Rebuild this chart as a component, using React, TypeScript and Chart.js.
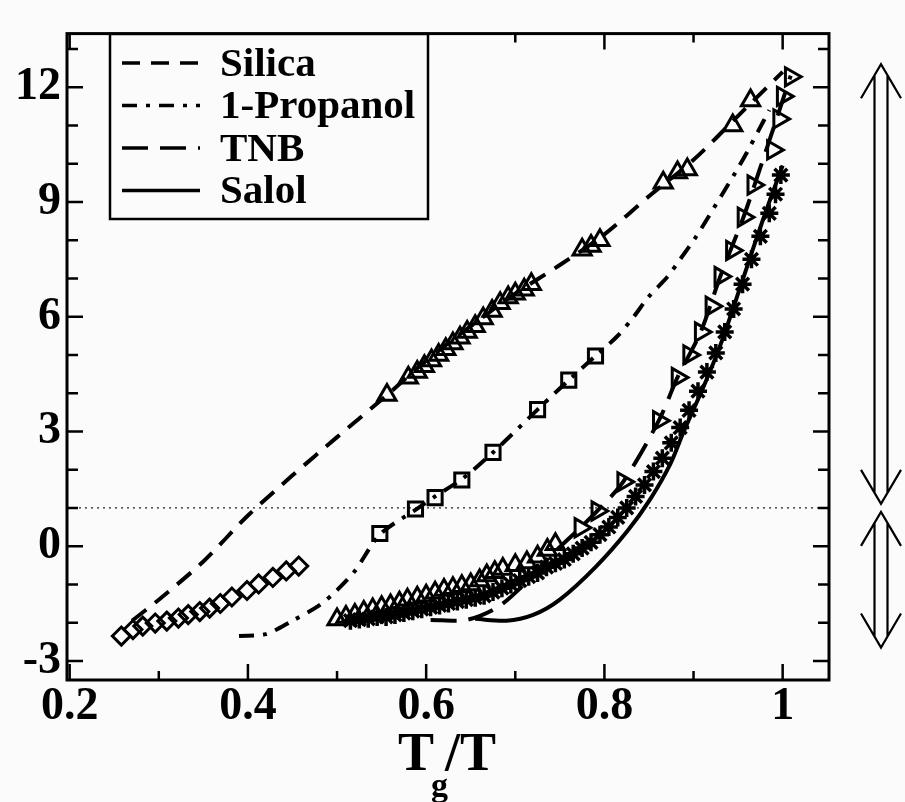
import React, { useEffect, useRef } from "react";
import { Chart, registerables } from "chart.js";

Chart.register(...registerables);

// ---------- axis ticks ----------
const X_MIN = 0.197;
const X_MAX = 1.052;
const Y_MIN = -3.5;
const Y_MAX = 13.4;
const X_LABEL_TICKS = [0.2, 0.4, 0.6, 0.8, 1.0];
const X_ALL_TICKS = [0.2, 0.3, 0.4, 0.5, 0.6, 0.7, 0.8, 0.9, 1.0];
const Y_LABEL_TICKS = [-3, 0, 3, 6, 9, 12];
const Y_ALL_TICKS = [-3, -2, -1, 0, 1, 2, 3, 4, 5, 6, 7, 8, 9, 10, 11, 12, 13];

// ---------- fit curves ----------
const SILICA_FIT_X = [0.27, 0.3, 0.35, 0.4, 0.45, 0.5, 0.556, 0.6, 0.65, 0.7, 0.75, 0.8, 0.85, 0.9, 0.95, 1.0];
const SILICA_FIT_Y = [-1.95, -1.4, -0.4, 0.8, 1.85, 2.85, 3.95, 4.85, 5.75, 6.6, 7.35, 8.15, 9.15, 10.1, 11.25, 12.4];

const PROPANOL_FIT_X = [0.39, 0.42, 0.45, 0.48, 0.5, 0.52, 0.548, 0.588, 0.61, 0.64, 0.675, 0.725, 0.76, 0.79, 0.815, 0.833, 0.849, 0.871, 0.885, 0.902, 0.917, 0.947, 0.96, 0.973, 0.985];
const PROPANOL_FIT_Y = [-2.35, -2.3, -1.95, -1.55, -1.15, -0.65, 0.3, 0.95, 1.3, 1.75, 2.45, 3.57, 4.34, 4.97, 5.5, 6.0, 6.5, 7.05, 7.5, 8.06, 8.62, 9.77, 10.3, 10.87, 11.4];

const TNB_FIT_X = [0.605, 0.645, 0.68, 0.71, 0.74, 0.773, 0.792, 0.821, 0.861, 0.882, 0.908, 0.93, 0.956, 0.975, 0.995, 1.009];
const TNB_FIT_Y = [-1.93, -1.93, -1.6, -1.0, -0.25, 0.48, 0.92, 1.68, 3.28, 4.41, 5.6, 7.05, 8.6, 9.9, 11.3, 12.3];

const SALOL_FIT_X = [0.655, 0.69, 0.72, 0.75, 0.79, 0.826, 0.852, 0.874, 0.889, 0.91, 0.93, 0.95, 0.97, 0.985, 1.0];
const SALOL_FIT_Y = [-1.9, -1.95, -1.8, -1.4, -0.55, 0.4, 1.25, 2.15, 3.0, 4.1, 5.25, 6.6, 8.0, 9.0, 9.95];

// ---------- measured data ----------
const SILICA_X = [0.556, 0.58, 0.59, 0.598, 0.606, 0.614, 0.622, 0.63, 0.638, 0.646, 0.655, 0.664, 0.674, 0.683, 0.692, 0.7, 0.71, 0.718, 0.775, 0.785, 0.795, 0.866, 0.882, 0.893, 0.944, 0.964];
const SILICA_Y = [3.95, 4.4, 4.55, 4.7, 4.85, 5.0, 5.15, 5.3, 5.45, 5.6, 5.75, 5.95, 6.15, 6.35, 6.5, 6.6, 6.7, 6.85, 7.75, 7.85, 8.0, 9.5, 9.77, 9.85, 11.0, 11.65];

const DIAMOND_X = [0.258, 0.271, 0.282, 0.296, 0.309, 0.322, 0.333, 0.346, 0.357, 0.369, 0.382, 0.399, 0.412, 0.428, 0.443, 0.457];
const DIAMOND_Y = [-2.35, -2.18, -2.09, -2.01, -1.96, -1.88, -1.79, -1.71, -1.62, -1.5, -1.33, -1.16, -0.99, -0.82, -0.65, -0.52];

const PROPANOL_X = [0.548, 0.588, 0.61, 0.64, 0.675, 0.725, 0.76, 0.79];
const PROPANOL_Y = [0.33, 0.97, 1.27, 1.73, 2.45, 3.57, 4.34, 4.97];

const TNB_X = [0.5, 0.51, 0.52, 0.53, 0.54, 0.55, 0.56, 0.57, 0.579, 0.59, 0.6, 0.61, 0.62, 0.63, 0.64, 0.65, 0.66, 0.668, 0.677, 0.686, 0.7, 0.713, 0.725, 0.736, 0.745, 0.773, 0.792, 0.821, 0.861, 0.882, 0.895, 0.908, 0.92, 0.93, 0.943, 0.956, 0.967, 0.989, 0.996, 1.0, 1.009];
const TNB_Y = [-1.92, -1.85, -1.8, -1.72, -1.66, -1.6, -1.55, -1.48, -1.4, -1.35, -1.3, -1.22, -1.15, -1.1, -1.05, -1.0, -0.9, -0.77, -0.68, -0.6, -0.5, -0.43, -0.28, -0.1, 0.05, 0.48, 0.92, 1.68, 3.28, 4.41, 5.0, 5.6, 6.27, 7.05, 7.73, 8.6, 9.44, 10.36, 11.17, 11.76, 12.27];

const SALOL_X = [0.515, 0.525, 0.535, 0.545, 0.555, 0.565, 0.575, 0.585, 0.595, 0.605, 0.615, 0.625, 0.635, 0.645, 0.655, 0.665, 0.675, 0.685, 0.695, 0.705, 0.715, 0.725, 0.735, 0.745, 0.755, 0.765, 0.775, 0.785, 0.795, 0.805, 0.815, 0.825, 0.835, 0.845, 0.855, 0.865, 0.875, 0.885, 0.895, 0.905, 0.915, 0.925, 0.935, 0.945, 0.955, 0.965, 0.975, 0.985, 0.992, 0.998];
const SALOL_Y = [-1.95, -1.92, -1.9, -1.85, -1.85, -1.8, -1.75, -1.7, -1.65, -1.6, -1.55, -1.5, -1.45, -1.4, -1.35, -1.3, -1.2, -1.1, -1.0, -0.9, -0.8, -0.7, -0.55, -0.45, -0.35, -0.2, -0.05, 0.1, 0.3, 0.5, 0.75, 1.0, 1.3, 1.6, 1.95, 2.3, 2.7, 3.1, 3.55, 4.05, 4.55, 5.05, 5.6, 6.2, 6.85, 7.5, 8.1, 8.7, 9.2, 9.7];

const REF_LINE_Y = 1;
const ARROW_TOP = 12.6;
const ARROW_BOTTOM = -2.65;

const SERIES_LABELS = ["Silica", "1-Propanol", "TNB", "Salol"];

const FONT = "'Liberation Serif', 'Times New Roman', Times, serif";
const INK = "#000";

const pts = (xs: number[], ys: number[]) => xs.map((x, i) => ({ x, y: ys[i] }));

const near = (a: number, list: number[]) => list.some((v) => Math.abs(v - a) < 1e-6);

const bgPlugin = {
  id: "bg",
  beforeDraw(chart: any) {
    const { ctx, width, height } = chart;
    ctx.save();
    ctx.fillStyle = "#fbfbfc";
    ctx.fillRect(0, 0, width, height);
    ctx.restore();
  },
};

const framePlugin = {
  id: "frame",
  afterDraw(chart: any) {
    const { ctx, chartArea } = chart;
    const { left, right, top, bottom } = chartArea;
    const xs = chart.scales.x;
    const ys = chart.scales.y;
    ctx.save();
    ctx.strokeStyle = INK;
    ctx.lineWidth = 3;
    ctx.strokeRect(left, top, right - left, bottom - top);
    ctx.lineWidth = 2.5;
    ctx.beginPath();
    X_ALL_TICKS.forEach((v) => {
      const px = xs.getPixelForValue(v);
      const len = near(v, X_LABEL_TICKS) ? 16 : 9;
      ctx.moveTo(px, bottom);
      ctx.lineTo(px, bottom - len);
      ctx.moveTo(px, top);
      ctx.lineTo(px, top + len);
    });
    Y_ALL_TICKS.forEach((v) => {
      const py = ys.getPixelForValue(v);
      const len = near(v, Y_LABEL_TICKS) ? 16 : 11;
      ctx.moveTo(left, py);
      ctx.lineTo(left + len, py);
      ctx.moveTo(right, py);
      ctx.lineTo(right - len, py);
    });
    ctx.stroke();
    ctx.restore();
  },
};

const legendPlugin = {
  id: "boxLegend",
  afterDraw(chart: any) {
    const { ctx } = chart;
    const items = chart.data.datasets.filter((d: any) => d.inLegend);
    const boxX = 110, boxY = 34, boxW = 318, boxH = 185;
    ctx.save();
    ctx.fillStyle = "#fbfbfc";
    ctx.fillRect(boxX, boxY, boxW, boxH);
    ctx.strokeStyle = INK;
    ctx.lineWidth = 2.5;
    ctx.strokeRect(boxX, boxY, boxW, boxH);
    items.forEach((d: any, i: number) => {
      const yy = 63 + i * 42.5;
      ctx.setLineDash(d.borderDash || []);
      ctx.lineWidth = 3.5;
      ctx.beginPath();
      ctx.moveTo(122, yy);
      ctx.lineTo(200, yy);
      ctx.stroke();
      ctx.setLineDash([]);
      ctx.fillStyle = INK;
      ctx.font = `bold 41px ${FONT}`;
      ctx.textAlign = "left";
      ctx.textBaseline = "middle";
      ctx.fillText(d.label, 220, yy + 2);
    });
    ctx.restore();
  },
};

const titlePlugin = {
  id: "xTitle",
  afterDraw(chart: any) {
    const { ctx, chartArea } = chart;
    const cx = (chartArea.left + chartArea.right) / 2;
    const base = chartArea.bottom + 90;
    ctx.save();
    ctx.fillStyle = INK;
    ctx.textAlign = "left";
    ctx.textBaseline = "alphabetic";
    ctx.font = `bold 54px ${FONT}`;
    ctx.fillText("T", cx - 50, base);
    ctx.fillText("/T", cx - 3, base);
    ctx.font = `bold 34px ${FONT}`;
    ctx.fillText("g", cx - 17, base + 26);
    ctx.restore();
  },
};

const arrowPlugin = {
  id: "arrows",
  afterDraw(chart: any) {
    const { ctx, chartArea } = chart;
    const ys = chart.scales.y;
    const cx = chartArea.right + 52;
    const mid = ys.getPixelForValue(REF_LINE_Y);
    const topTip = ys.getPixelForValue(ARROW_TOP);
    const botTip = ys.getPixelForValue(ARROW_BOTTOM);
    const headW = 20, headH = 34, gap = 6.5;
    ctx.save();
    ctx.strokeStyle = INK;
    ctx.lineWidth = 2.2;
    const doubleArrow = (y1: number, y2: number) => {
      const off = (gap / headW) * headH;
      ctx.beginPath();
      ctx.moveTo(cx - headW, y1 + headH);
      ctx.lineTo(cx, y1);
      ctx.lineTo(cx + headW, y1 + headH);
      ctx.moveTo(cx - headW, y2 - headH);
      ctx.lineTo(cx, y2);
      ctx.lineTo(cx + headW, y2 - headH);
      ctx.moveTo(cx - gap, y1 + off);
      ctx.lineTo(cx - gap, y2 - off);
      ctx.moveTo(cx + gap, y1 + off);
      ctx.lineTo(cx + gap, y2 - off);
      ctx.stroke();
    };
    doubleArrow(topTip, mid - 4);
    doubleArrow(mid + 4, botTip);
    ctx.restore();
  },
};

export default function App() {
  const canvasRef = useRef<HTMLCanvasElement | null>(null);

  useEffect(() => {
    document.body.style.margin = "0";
    const canvas = canvasRef.current;
    if (!canvas) return;

    const fitStyle = (dash: number[]) => ({
      showLine: true,
      borderColor: INK,
      borderWidth: 4,
      borderDash: dash,
      pointRadius: 0,
      tension: 0.3,
      fill: false,
      inLegend: true,
    });
    const markerStyle = (style: string, radius: number, width: number) => ({
      showLine: false,
      pointStyle: style,
      pointRadius: radius,
      pointBorderColor: INK,
      pointBackgroundColor: "rgba(0,0,0,0)",
      pointBorderWidth: width,
    });

    const chart = new Chart(canvas, {
      type: "scatter",
      data: {
        datasets: [
          { label: SERIES_LABELS[0], data: pts(SILICA_FIT_X, SILICA_FIT_Y), ...fitStyle([18, 11]) } as any,
          { label: SERIES_LABELS[1], data: pts(PROPANOL_FIT_X, PROPANOL_FIT_Y), ...fitStyle([15, 9, 4, 9]) } as any,
          { label: SERIES_LABELS[2], data: pts(TNB_FIT_X, TNB_FIT_Y), ...fitStyle([26, 12]) } as any,
          { label: SERIES_LABELS[3], data: pts(SALOL_FIT_X, SALOL_FIT_Y), ...fitStyle([]) } as any,
          { label: "Silica data", data: pts(SILICA_X, SILICA_Y), ...markerStyle("triangle", 10.5, 3) } as any,
          { label: "Silica data (low T)", data: pts(DIAMOND_X, DIAMOND_Y), ...markerStyle("rectRot", 9, 3) } as any,
          { label: "1-Propanol data", data: pts(PROPANOL_X, PROPANOL_Y), ...markerStyle("rect", 10, 3) } as any,
          {
            label: "TNB data",
            data: pts(TNB_X, TNB_Y),
            ...markerStyle("triangle", 10.5, 3),
            pointRotation: (c: any) => (c.raw && c.raw.y > 0.3 ? 90 : 0),
          } as any,
          { label: "Salol data", data: pts(SALOL_X, SALOL_Y), ...markerStyle("star", 9, 3.5) } as any,
          {
            label: "reference",
            data: [
              { x: X_MIN, y: REF_LINE_Y },
              { x: X_MAX, y: REF_LINE_Y },
            ],
            showLine: true,
            borderColor: "#222",
            borderWidth: 1.3,
            borderDash: [2, 4],
            pointRadius: 0,
          } as any,
        ],
      },
      options: {
        responsive: false,
        animation: false,
        layout: { padding: { top: 17, right: 76, left: 0, bottom: 0 } },
        plugins: {
          legend: { display: false },
          tooltip: { enabled: false },
        },
        scales: {
          x: {
            type: "linear",
            min: X_MIN,
            max: X_MAX,
            grid: { display: false, drawTicks: false },
            border: { display: false },
            afterBuildTicks: (s: any) => {
              s.ticks = X_LABEL_TICKS.map((v) => ({ value: v }));
            },
            afterFit: (s: any) => {
              s.height = 122;
            },
            ticks: {
              padding: 0,
              maxRotation: 0,
              autoSkip: false,
              color: INK,
              font: { family: FONT, size: 46, weight: "bold" },
              callback: (v: any) => (Math.abs(v - 1) < 1e-6 ? "1" : Number(v).toFixed(1)),
            },
          },
          y: {
            type: "linear",
            min: Y_MIN,
            max: Y_MAX,
            grid: { display: false, drawTicks: false },
            border: { display: false },
            afterBuildTicks: (s: any) => {
              s.ticks = Y_LABEL_TICKS.map((v) => ({ value: v }));
            },
            afterFit: (s: any) => {
              s.width = 67;
            },
            ticks: {
              padding: 6,
              autoSkip: false,
              color: INK,
              font: { family: FONT, size: 46, weight: "bold" },
              callback: (v: any) => String(v),
            },
          },
        },
      },
      plugins: [bgPlugin, framePlugin, legendPlugin, titlePlugin, arrowPlugin],
    } as any);

    return () => chart.destroy();
  }, []);

  return (
    <div style={{ width: 905, height: 802 }}>
      <canvas ref={canvasRef} width={905} height={802} style={{ display: "block" }} />
    </div>
  );
}
